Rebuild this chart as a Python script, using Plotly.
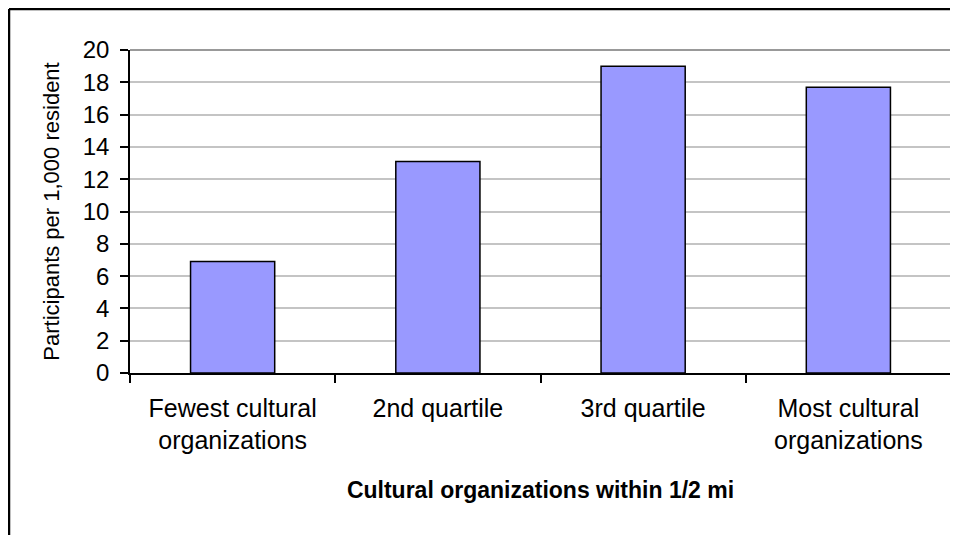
import plotly.graph_objects as go

categories = ["Fewest cultural<br>organizations", "2nd quartile", "3rd quartile", "Most cultural<br>organizations"]
values = [6.9, 13.1, 19.0, 17.7]
y_ticks = [0, 2, 4, 6, 8, 10, 12, 14, 16, 18, 20]

font_family = "Liberation Sans, Arial, sans-serif"

fig = go.Figure()
fig.add_trace(go.Bar(
    x=categories, y=values, width=0.41,
    marker=dict(color="#9999FF", line=dict(color="black", width=1.5)),
))

# page body has an 8px margin, so the figure starts at (8, 8)
W, H = 950, 527
L, T, R, B = 122, 42, 7, 162
pw = W - L - R
ph = H - T - B

fx = (1 - L) / pw          # paper x of figure left edge (+1px)
fy = (H - B - 1) / ph      # paper y of figure top edge (-1px)

fig.update_layout(
    width=W, height=H,
    margin=dict(l=L, r=R, t=T, b=B),
    paper_bgcolor="white", plot_bgcolor="white",
    showlegend=False,
    font=dict(family=font_family, color="black"),
    xaxis=dict(
        showgrid=False, showline=True, linecolor="black", linewidth=1.5,
        ticks="outside", tickson="boundaries", ticklen=8, tickcolor="black", tickwidth=1.5,
        tickfont=dict(size=25, family=font_family), ticklabelstandoff=12,
        title=dict(text="<b>Cultural organizations within 1/2 mi</b>",
                   font=dict(size=23, family=font_family), standoff=29),
    ),
    yaxis=dict(
        range=[0, 20], tickvals=y_ticks, showgrid=True, gridcolor="#c4c4c4", gridwidth=1.5,
        showline=True, linecolor="black", linewidth=1.5, zeroline=False,
        ticks="outside", ticklen=8, tickcolor="black", tickwidth=1.5,
        tickfont=dict(size=24, family=font_family), ticklabelstandoff=6,
        title=dict(text="Participants per 1,000 resident",
                   font=dict(size=22, family=font_family), standoff=17),
    ),
    shapes=[
        # gray plot-area border (top and right)
        dict(type="line", xref="paper", yref="paper", x0=0, y0=1, x1=1, y1=1,
             line=dict(color="#999999", width=2), layer="above"),
        dict(type="line", xref="paper", yref="paper", x0=1, y0=0, x1=1, y1=1,
             line=dict(color="#999999", width=2), layer="above"),
        # outer black frame (top and left)
        dict(type="line", xref="paper", yref="paper",
             x0=fx, y0=fy, x1=1.2, y1=fy,
             line=dict(color="black", width=2.5), layer="above"),
        dict(type="line", xref="paper", yref="paper",
             x0=fx, y0=fy, x1=fx, y1=-0.7,
             line=dict(color="black", width=2.5), layer="above"),
    ],
)

fig.write_html("out.html")
